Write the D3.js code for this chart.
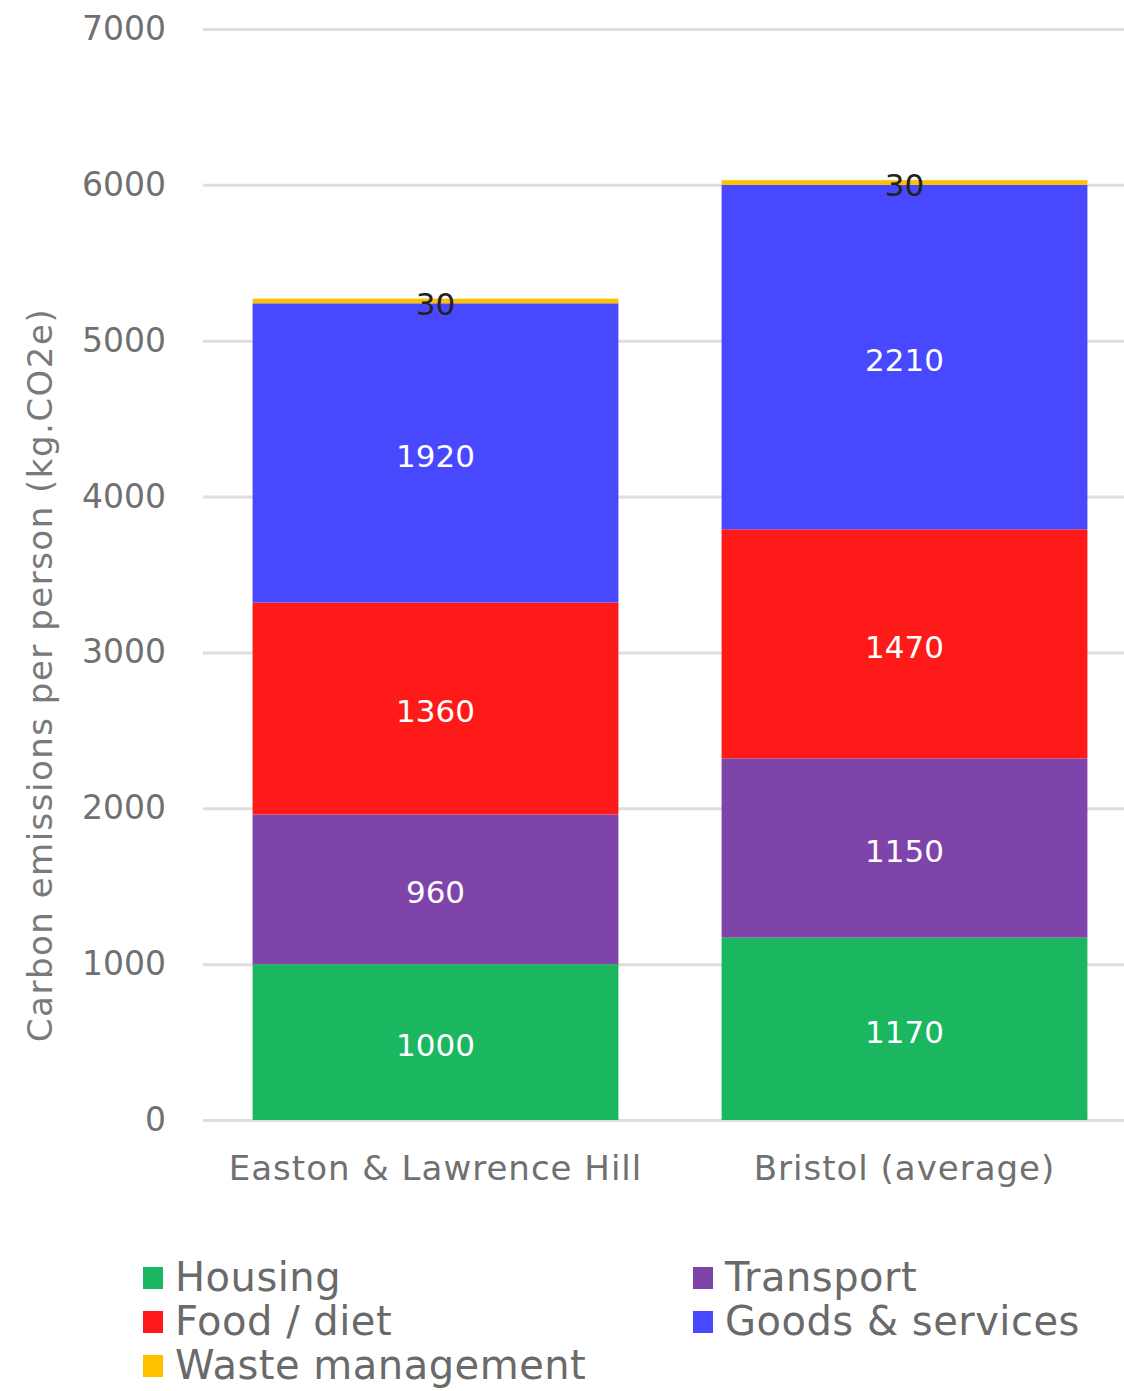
<!DOCTYPE html>
<html>
<head>
<meta charset="utf-8">
<script src="https://cdn.jsdelivr.net/npm/d3@7"></script>
<style>
  html, body { margin: 0; padding: 0; background: #fff; }
  svg { display: block; font-family: "DejaVu Sans", sans-serif; }
</style>
</head>
<body>
<svg id="chart" width="1124" height="1391"></svg>
<script>
const categories = ["Easton & Lawrence Hill", "Bristol (average)"];
const seriesNames = ["Housing", "Transport", "Food / diet", "Goods & services", "Waste management"];
const housing = [1000, 1170];
const transport = [960, 1150];
const food = [1360, 1470];
const goods = [1920, 2210];
const waste = [30, 30];
const yTicks = [0, 1000, 2000, 3000, 4000, 5000, 6000, 7000];
const yTitle = "Carbon emissions per person (kg.CO2e)";

const colors = ["#1bb760", "#7e44a9", "#ff1a1a", "#4848ff", "#ffc000"];
const labelColors = ["#ffffff", "#ffffff", "#ffffff", "#ffffff", "#222222"];

const seriesValues = [housing, transport, food, goods, waste];
const table = categories.map((c, i) => {
  const row = { category: c };
  seriesNames.forEach((s, j) => row[s] = seriesValues[j][i]);
  return row;
});
const stacked = d3.stack().keys(seriesNames)(table);

const svg = d3.select("#chart");
const x = d3.scaleBand().domain(categories).range([201, 1139]).paddingInner(0.22).paddingOuter(0.11);
const y = d3.scaleLinear().domain([0, 7000]).range([1120, 29]);

// gridlines
const grid = svg.append("g").attr("transform", "translate(203,0)")
  .call(d3.axisLeft(y).tickValues(yTicks).tickSize(-921).tickFormat(""));
grid.select(".domain").remove();
grid.selectAll("line").attr("stroke", "#dedede").attr("stroke-width", 3);

// y tick labels
const yAxis = svg.append("g").attr("transform", "translate(166,0)")
  .call(d3.axisLeft(y).tickValues(yTicks).tickSize(0).tickPadding(0).tickFormat(d3.format("d")));
yAxis.select(".domain").remove();
yAxis.selectAll("text").attr("font-size", 33).attr("fill", "#707070").attr("font-family", "DejaVu Sans");

// bars
const layers = svg.append("g").selectAll("g").data(stacked).join("g")
  .attr("fill", (d, i) => colors[i]);
layers.selectAll("rect").data(d => d).join("rect")
  .attr("x", d => x(d.data.category))
  .attr("width", x.bandwidth())
  .attr("y", d => y(d[1]))
  .attr("height", d => y(d[0]) - y(d[1]));

// data labels
const lbl = svg.append("g").selectAll("g").data(stacked).join("g")
  .attr("fill", (d, i) => labelColors[i]);
lbl.selectAll("text").data(d => d.map(v => ({ v, key: d.key }))).join("text")
  .attr("x", d => x(d.v.data.category) + x.bandwidth() / 2)
  .attr("y", d => y((d.v[0] + d.v[1]) / 2))
  .attr("dy", "0.45em")
  .attr("text-anchor", "middle")
  .attr("font-size", 31)
  .text(d => d.v.data[d.key]);

// x axis labels
const xAxis = svg.append("g").attr("transform", "translate(0,1120)")
  .call(d3.axisBottom(x).tickSize(0).tickPadding(36));
xAxis.select(".domain").remove();
xAxis.selectAll("text").attr("font-size", 34).attr("letter-spacing", 1)
  .attr("fill", "#707070").attr("font-family", "DejaVu Sans");

// y title
svg.append("text")
  .attr("transform", "translate(52,675) rotate(-90)")
  .attr("text-anchor", "middle")
  .attr("font-size", 34)
  .attr("letter-spacing", 1.5)
  .attr("fill", "#7a7a7a")
  .text(yTitle);

// legend
const legendPos = [[143, 1277], [693, 1277], [143, 1321], [693, 1321], [143, 1365]];
const legend = svg.append("g").selectAll("g").data(seriesNames).join("g")
  .attr("transform", (d, i) => `translate(${legendPos[i][0]},${legendPos[i][1]})`);
legend.append("rect").attr("x", 0).attr("y", -10).attr("width", 20).attr("height", 22)
  .attr("fill", (d, i) => colors[i]);
legend.append("text").attr("x", 32).attr("dy", "0.36em")
  .attr("font-size", 40).attr("letter-spacing", 0.5).attr("fill", "#6a6a6a").text(d => d);
</script>
</body>
</html>
